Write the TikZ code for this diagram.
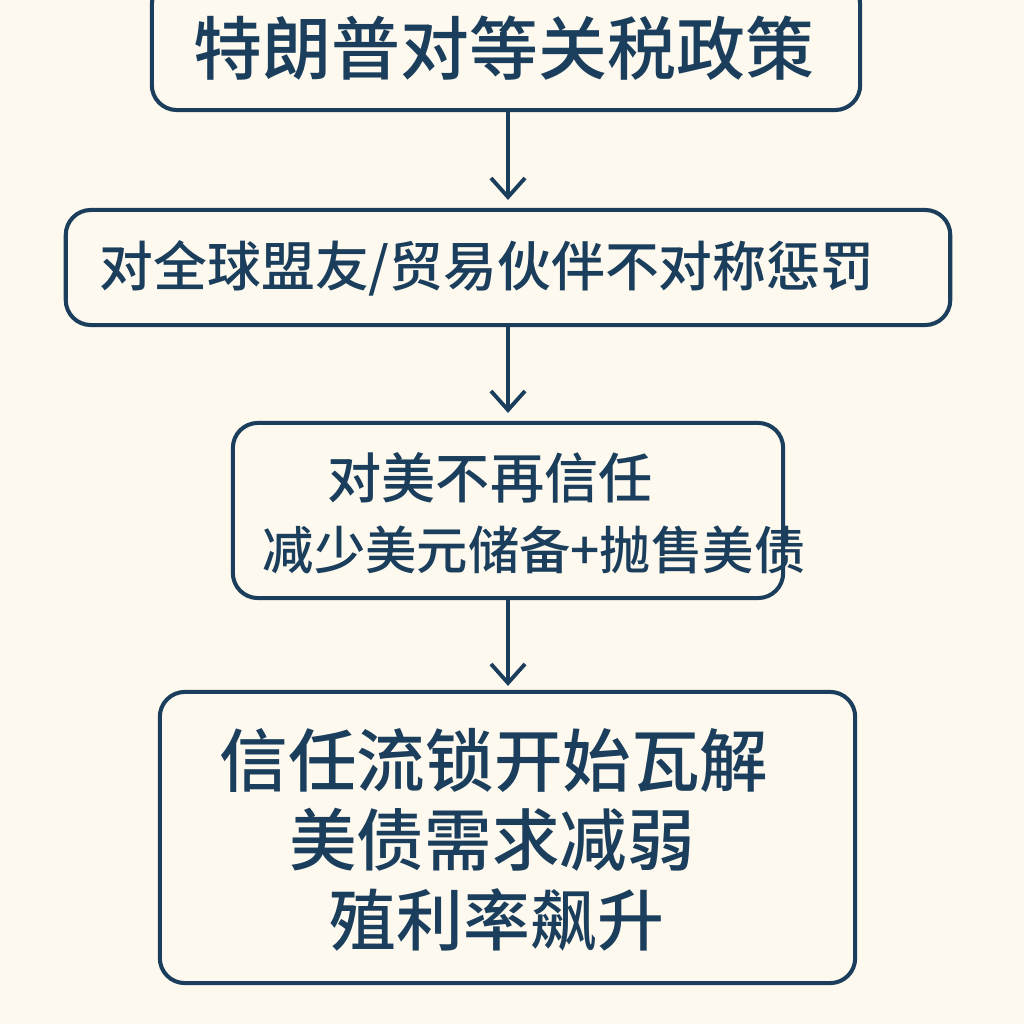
\documentclass[tikz,border=0pt]{standalone}
\usepackage{fontspec}
\newfontfamily\cjk{Noto Sans CJK SC Medium}
\usetikzlibrary{arrows.meta}
\definecolor{navy}{HTML}{1A3E5B}
\definecolor{bg}{HTML}{FDF9EF}
\begin{document}
\begin{tikzpicture}[x=0.01cm,y=-0.01cm,
  box/.style={draw=navy,line width=1.15pt,rounded corners=0.25cm,inner sep=0pt,fill=bg},
  txt/.style={text=navy,inner sep=0pt},
  arr/.style={draw=navy,line width=1.1pt,-{Straight Barb[length=0.19cm,width=0.34cm,line width=1.1pt]}}]
\fill[bg] (0,0) rectangle (1024,1024);
\useasboundingbox (0,0) rectangle (1024,1024);
% boxes
\node[box,minimum width=7.08cm,minimum height=1.30cm] (b1) at (506,45) {};
\node[box,minimum width=8.84cm,minimum height=1.15cm] (b2) at (508,267.5) {};
\node[box,minimum width=5.50cm,minimum height=1.75cm] (b3) at (508,510.5) {};
\node[box,minimum width=6.95cm,minimum height=2.91cm] (b4) at (507.5,837.5) {};
% texts
\node[txt,font=\cjk\fontsize{19.6pt}{19.6pt}\selectfont] (t1) at (504,48) {特朗普对等关税政策};
\node[txt,font=\cjk\fontsize{15.3pt}{15.3pt}\selectfont] (t2) at (487,268) {对全球盟友/贸易伙伴不对称惩罚};
\node[txt,font=\cjk\fontsize{15.4pt}{15.4pt}\selectfont] (t3a) at (490,478) {对美不再信任};
\node[txt,font=\cjk\fontsize{14.6pt}{14.6pt}\selectfont] (t3b) at (534,550) {减少美元储备+抛售美债};
\node[txt,font=\cjk\fontsize{19.5pt}{19.5pt}\selectfont] (t4a) at (494,760) {信任流锁开始瓦解};
\node[txt,font=\cjk\fontsize{19.2pt}{19.2pt}\selectfont] (t4b) at (492,840) {美债需求减弱};
\node[txt,font=\cjk\fontsize{19.0pt}{19.0pt}\selectfont] (t4c) at (497,920) {殖利率飙升};
% arrows
\coordinate (ax) at (508,0);
\draw[arr,shorten >=0.08cm] (b1.south -| ax) -- (b2.north -| ax);
\draw[arr,shorten >=0.08cm] (b2.south -| ax) -- (b3.north -| ax);
\draw[arr,shorten >=0.04cm] (b3.south -| ax) -- (b4.north -| ax);
\end{tikzpicture}
\end{document}
